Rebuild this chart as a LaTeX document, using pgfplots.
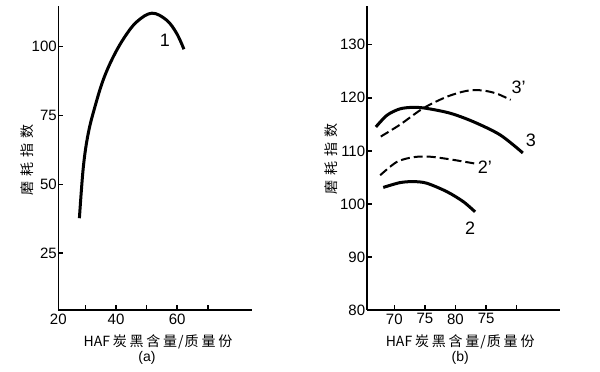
\documentclass[border=0pt]{standalone}
\usepackage{pgfplots}
\pgfplotsset{compat=1.18}
\usepackage{fontspec}
\setmainfont{Liberation Sans}
\newfontfamily\cjk{Noto Sans CJK SC}
\begin{document}
\begin{tikzpicture}[x=1pt,y=1pt]
\useasboundingbox (0,0) rectangle (600,372);
\pgfplotsset{
  myax/.style={
    scale only axis, width=193.5pt, height=304pt,
    axis x line*=bottom, axis y line*=left,
    x axis line style={-}, y axis line style={-},
    axis line style={line width=1.6pt},
    tick align=inside, major tick length=5pt,
    tick style={black, line width=1.5pt},
    /pgf/number format/assume math mode=true,
    tick label style={font=\fontsize{15}{15}\selectfont},
    yticklabel style={xshift=2pt},
    xlabel style={anchor=center, font=\cjk\fontsize{14}{14}\selectfont},
    ylabel style={anchor=center, rotate=0, font=\cjk\fontsize{14}{14}\selectfont},
    clip=false,
  }
}
\def\xl{HAF\hspace{2.8pt}炭\hspace{2.8pt}黑\hspace{2.8pt}含\hspace{2.8pt}量\hspace{1pt}/\hspace{1pt}质\hspace{2.8pt}量\hspace{2.8pt}份}
\def\yl{磨\hspace{5pt}耗\hspace{5pt}指\hspace{5pt}数}
% Panel (a)
\begin{axis}[myax, at={(58.3pt,62pt)}, anchor=south west,
  xmin=21.1, xmax=84.4, ymin=4.4, ymax=114.7,
  xtick={30,40,50,60,70}, xticklabels={,40,,60,},
  extra x ticks={21.1}, extra x tick labels={20},
  extra x tick style={major tick length=0pt},
  ytick={25,50,75,100},
  xlabel={\xl},
  ylabel={\yl},
  ylabel style={at={(rel axis cs:-0.163,0.493)}},
  xlabel style={at={(rel axis cs:0.515,-0.104)}},
]
\addplot[black, line width=3pt, smooth, tension=0.6] coordinates {
(28.0,37.7)(29.3,56.4)(30.9,68.5)(33.1,78.2)(35.8,87.9)(39.1,96.3)(42.9,103.6)
(46.8,109.0)(51.7,112.1)(56.5,109.6)(59.8,104.8)(62.2,99.0)};
\node[font=\fontsize{18}{18}\selectfont] at (axis cs:56.0,102.4) {1};
\node[font=\fontsize{14}{14}\selectfont] at (rel axis cs:0.458,-0.158) {(a)};
\end{axis}
% Panel (b)
\begin{axis}[myax, at={(366.7pt,62pt)}, anchor=south west,
  xmin=65.5, xmax=97.1, ymin=80, ymax=137.3,
  xtick={70,75,80,85,90}, xticklabels={70,75,80,75,},
  ytick={80,90,100,110,120,130},
  xlabel={\xl},
  ylabel={\yl},
  ylabel style={at={(rel axis cs:-0.181,0.497)}},
  xlabel style={at={(rel axis cs:0.483,-0.104)}},
]
\addplot[black, line width=3pt, smooth] coordinates {
(67.0,114.5)(68.8,116.7)(70.9,117.9)(73.1,118.2)(75.3,118.0)(79.1,117.1)(82.9,115.5)(87.3,113.0)(91.0,109.6)};
\addplot[black, line width=2pt, smooth, dash pattern=on 9pt off 4pt] coordinates {
(67.8,112.7)(70.9,114.9)(74.7,118.0)(78.6,120.2)(81.8,121.3)(84.3,121.4)(86.7,120.8)(89.0,119.6)};
\addplot[black, line width=2pt, smooth, dash pattern=on 9pt off 4pt] coordinates {
(67.7,105.4)(70.4,107.9)(73.1,108.8)(75.8,108.9)(79.1,108.4)(83.2,107.6)};
\addplot[black, line width=3pt, smooth] coordinates {
(68.2,103.1)(70.9,104.0)(73.1,104.2)(75.3,103.9)(78.6,102.3)(81.3,100.4)(83.2,98.5)};
\node[font=\fontsize{18}{18}\selectfont] at (axis cs:92.3,111.9) {3};
\node[font=\fontsize{18}{18}\selectfont] at (axis cs:90.3,122.0) {3'};
\node[font=\fontsize{18}{18}\selectfont] at (axis cs:84.8,107.0) {2'};
\node[font=\fontsize{18}{18}\selectfont] at (axis cs:82.4,95.4) {2};
\node[font=\fontsize{14}{14}\selectfont] at (rel axis cs:0.483,-0.158) {(b)};
\end{axis}
\end{tikzpicture}
\end{document}
